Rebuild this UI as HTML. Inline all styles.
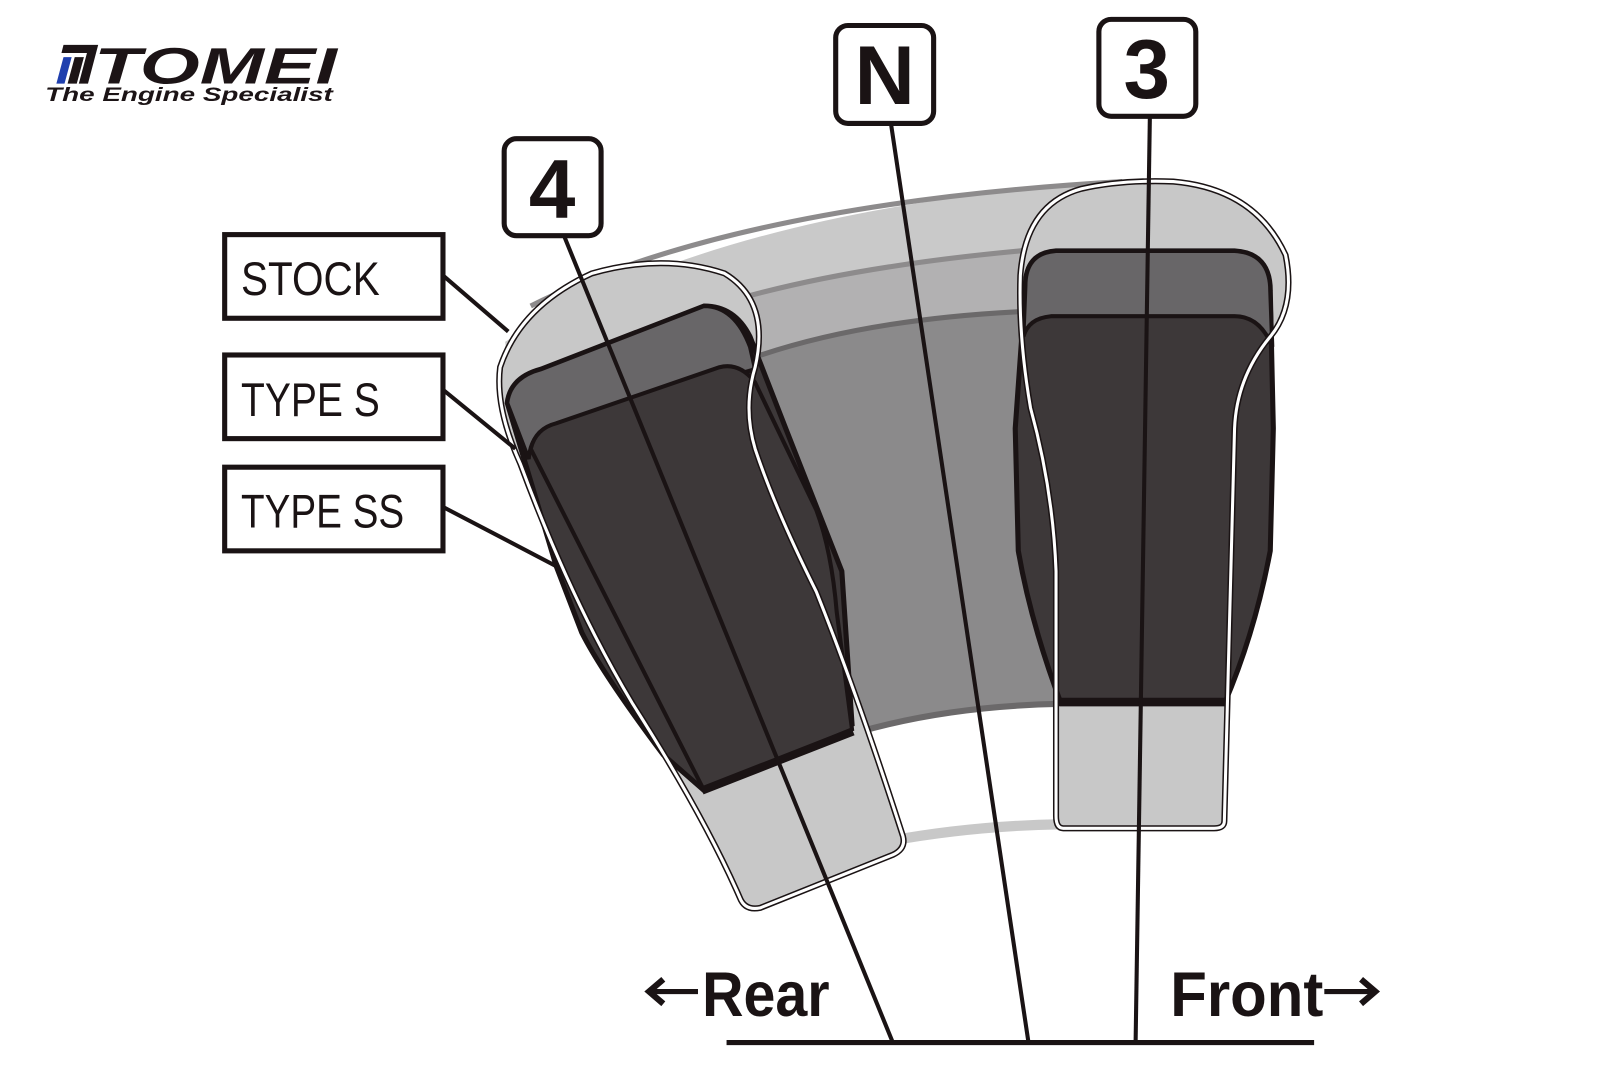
<!DOCTYPE html>
<html><head><meta charset="utf-8"><style>
html,body{margin:0;padding:0;background:#fff;}
svg{display:block}
</style></head><body>
<svg width="1600" height="1067" viewBox="0 0 1568 1046" xmlns="http://www.w3.org/2000/svg">
<defs>
<path id="ls" d="M490,360 Q510,300 580,268 Q650,248 710,268 Q755,295 740,360 Q728,400 740,440 Q760,500 800,580 Q840,680 885,820 Q888,832 875,838 L745,890 Q730,893 725,880 Q690,800 620,690 Q560,590 510,455 Q485,400 490,360 Z"/>
<path id="rs" d="M1000,270 Q1005,200 1060,185 Q1100,176 1150,178 Q1230,185 1260,250 Q1270,300 1245,330 Q1212,370 1210,420 L1200,805 Q1200,812 1190,812 L1042,812 Q1035,812 1035,800 L1035,560 Q1032,480 1010,400 Q998,330 1000,270 Z"/>
</defs>
<rect width="1568" height="1046" fill="#fff"/>
<!-- logo -->
<g font-family="Liberation Sans, sans-serif" font-weight="bold" font-style="italic">
<polygon points="55,82 62,56 70,56 63,82" fill="#1f3fae"/>
<polygon points="66,82 73,56 82,56 75,82" fill="#1c1416"/>
<polygon points="60,52 62,44 96,44 86,82 77,82 85,52" fill="#1c1416"/>
<text x="92" y="82" font-size="50" fill="#1c1416" textLength="238" lengthAdjust="spacingAndGlyphs">TOMEI</text>
<text x="44" y="99" font-size="19" fill="#1c1416" textLength="282" lengthAdjust="spacingAndGlyphs">The Engine Specialist</text>
</g>
<!-- bottom light arc -->
<path d="M830,833 Q930,810 1040,808" fill="none" stroke="#c8c8c8" stroke-width="10"/>
<!-- outer light band -->
<path d="M495,335 Q720,200 1100,178 L1130,178 L1130,320 L1000,305 Q830,315 740,350 L505,440 Z" fill="#c9c9c9"/>
<path d="M520,300 Q720,200 1100,178" fill="none" stroke="#8d8b8c" stroke-width="5"/>
<!-- medium band -->
<path d="M700,300 Q820,262 1010,245 L1010,305 Q830,315 740,350 Z" fill="#b2b1b2"/>
<path d="M700,300 Q820,262 1010,245" fill="none" stroke="#8d8b8c" stroke-width="5"/>
<!-- body -->
<path d="M740,350 Q850,312 1010,305 L1040,690 Q930,690 840,718 Z" fill="#8b8a8b"/>
<path d="M740,350 Q850,312 1010,305" fill="none" stroke="#6b696a" stroke-width="5"/>
<path d="M840,718 Q930,692 1040,690" fill="none" stroke="#6b696a" stroke-width="6"/>
<!-- stock silhouettes (fill) -->
<use href="#ls" fill="#c8c8c8"/>
<use href="#rs" fill="#c8c8c8"/>
<!-- left knob -->
<path d="M497,395 Q500,370 530,362 L690,300 Q720,300 735,330 L770,420 L825,560 L835,710 L690,775 L650,740 Q590,660 570,620 L545,555 Z" fill="#3d3839" stroke="#1a1314" stroke-width="5"/>
<path d="M497,395 Q500,370 530,362 L690,300 Q720,300 735,340 L740,362 L540,418 Q520,425 518,450 Z" fill="#686668" stroke="#1a1314" stroke-width="4"/>
<path d="M520,440 Q525,420 545,415 L705,360 Q725,355 740,375 L800,500 Q815,540 820,600 L835,715 L690,775 Z" fill="#3d3839" stroke="#1a1314" stroke-width="4"/>
<path d="M688,775 L836,717" stroke="#1a1314" stroke-width="8"/>
<!-- right knob -->
<path d="M1005,280 Q1005,248 1035,246 L1210,246 Q1245,248 1245,285 L1248,420 L1245,540 Q1230,620 1200,690 L1040,690 Q1010,610 998,540 L995,420 Z" fill="#3d3839" stroke="#1a1314" stroke-width="5"/>
<path d="M1005,280 Q1005,248 1035,246 L1210,246 Q1245,248 1245,285 L1247,340 Q1235,310 1210,310 L1030,310 Q1008,312 1003,330 Z" fill="#686668" stroke="#1a1314" stroke-width="4"/>
<path d="M1035,688 L1200,688" stroke="#1a1314" stroke-width="8"/>
<!-- stock outlines -->
<use href="#ls" fill="none" stroke="#1a1314" stroke-width="6"/>
<use href="#ls" fill="none" stroke="#fff" stroke-width="3"/>
<use href="#rs" fill="none" stroke="#1a1314" stroke-width="6"/>
<use href="#rs" fill="none" stroke="#fff" stroke-width="3"/>
<!-- leader lines -->
<g stroke="#1a1314" stroke-width="4" fill="none">
<line x1="553" y1="232" x2="875" y2="1022"/>
<line x1="873" y1="120" x2="1008" y2="1022"/>
<line x1="1127" y1="113" x2="1113" y2="1022"/>
<line x1="712" y1="1022" x2="1288" y2="1022" stroke-width="5"/>
<line x1="434" y1="270" x2="498" y2="325"/>
<line x1="434" y1="382" x2="505" y2="440"/>
<line x1="434" y1="497" x2="545" y2="555"/>
</g>
<!-- label boxes -->
<g fill="#fff" stroke="#1a1314" stroke-width="5">
<rect x="220" y="230" width="214" height="82"/>
<rect x="220" y="348" width="214" height="82"/>
<rect x="220" y="458" width="214" height="82"/>
<rect x="494" y="136" width="95" height="95" rx="12"/>
<rect x="819" y="25" width="96" height="96" rx="12"/>
<rect x="1077" y="19" width="95" height="95" rx="12"/>
</g>
<g font-family="Liberation Sans, sans-serif" fill="#1a1314" font-size="46">
<text x="236" y="289" textLength="136" lengthAdjust="spacingAndGlyphs">STOCK</text>
<text x="236" y="408" textLength="136" lengthAdjust="spacingAndGlyphs">TYPE S</text>
<text x="236" y="517" textLength="160" lengthAdjust="spacingAndGlyphs">TYPE SS</text>
</g>
<g font-family="Liberation Sans, sans-serif" font-weight="bold" fill="#1a1314" font-size="82" text-anchor="middle">
<text x="541" y="213">4</text>
<text x="867" y="102">N</text>
<text x="1124" y="96">3</text>
</g>
<g font-family="Liberation Sans, sans-serif" font-weight="bold" fill="#1a1314" font-size="62">
<text x="688" y="996" textLength="125" lengthAdjust="spacingAndGlyphs">Rear</text>
<text x="1147" y="996" textLength="150" lengthAdjust="spacingAndGlyphs">Front</text>
</g>
<g stroke="#1a1314" stroke-width="5" fill="none" stroke-linecap="butt">
<line x1="638" y1="972" x2="684" y2="972"/>
<polyline points="650,960 636,972 650,984" stroke-width="6"/>
<line x1="1298" y1="972" x2="1346" y2="972"/>
<polyline points="1334,960 1348,972 1334,984" stroke-width="6"/>
</g>
</svg>
</body></html>
